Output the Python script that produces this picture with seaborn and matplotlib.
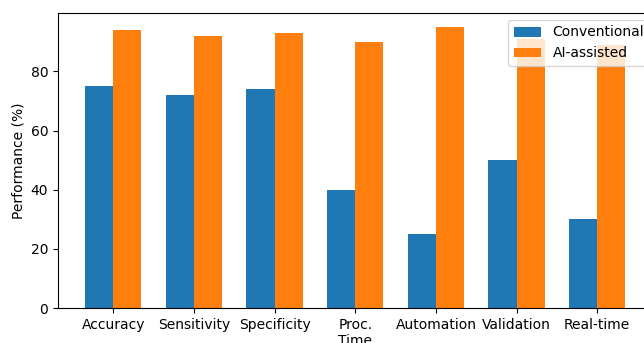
import pandas as pd
import seaborn as sns
import matplotlib.pyplot as plt

categories = ["Accuracy", "Sensitivity", "Specificity", "Proc.\nTime",
              "Automation", "Validation", "Real-time"]
conventional = [75, 72, 74, 40, 25, 50, 30]
ai_assisted = [94, 92, 93, 90, 95, 91, 89]

df = pd.DataFrame({
    "Metric": categories * 2,
    "Performance": conventional + ai_assisted,
    "Method": ["Conventional"] * len(categories) + ["AI-assisted"] * len(categories),
})

fig = plt.figure(figsize=(6.44, 3.43), dpi=100)
# axes run past the right edge, as in the reference crop
ax = fig.add_axes([58 / 644, 1 - 308 / 343, 594.5 / 644, 295 / 343])

sns.barplot(data=df, x="Metric", y="Performance", hue="Method",
            palette=["#1f77b4", "#ff7f0e"], saturation=1, width=0.7,
            errorbar=None, ax=ax)

ax.set_xlim(-0.685, len(categories) - 1 + 0.685)
ax.set_xlabel("")
ax.set_ylabel("Performance (%)")
handles, labels = ax.get_legend_handles_labels()
ax.legend(handles, labels, loc="upper right", bbox_to_anchor=(1.007, 1))

fig.savefig("out.png", dpi=100)
plt.close()
